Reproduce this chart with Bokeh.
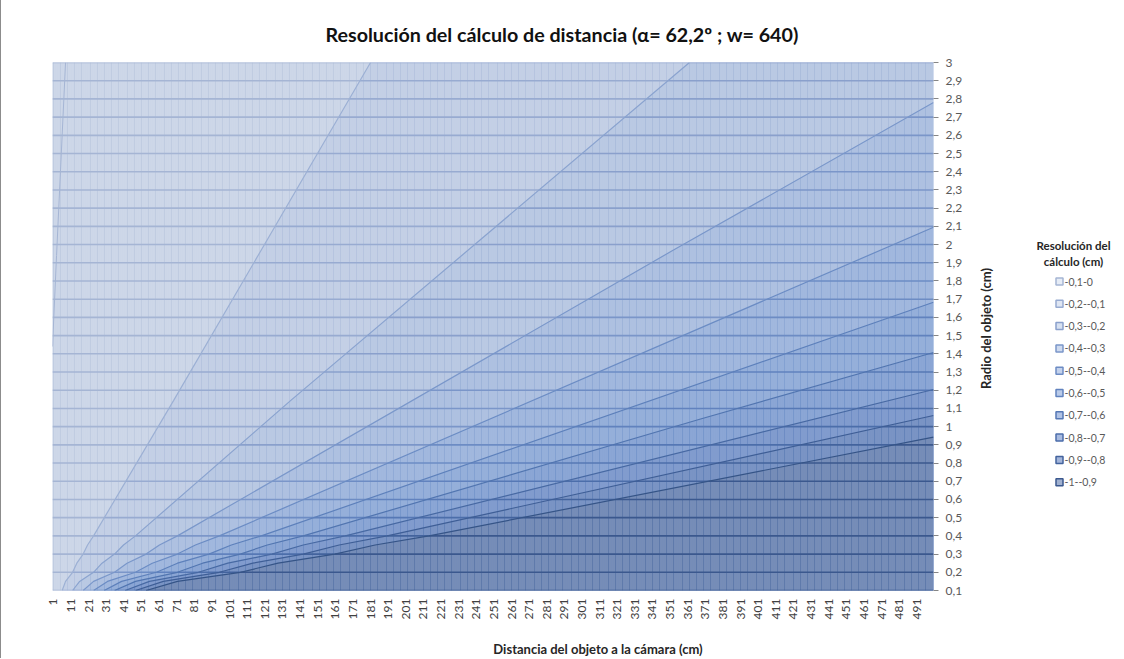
import numpy as np
from bokeh.plotting import figure
from bokeh.models import FixedTicker, Range1d, CustomJSTickFormatter
from bokeh.layouts import row, column
from bokeh.embed import file_html
from bokeh.resources import INLINE
from bokeh.core.properties import value

# ---------------- data ----------------
x_ticks = list(range(1, 500, 10))                 # category labels 1, 11, ... 491
radius_levels = [round(0.1 * i, 1) for i in range(1, 31)]   # series 0,1 ... 3
band_labels = ["-0,1-0", "-0,2--0,1", "-0,3--0,2", "-0,4--0,3", "-0,5--0,4",
               "-0,6--0,5", "-0,7--0,6", "-0,8--0,7", "-0,9--0,8", "-1--0,9"]

# contour lines (distance d, radius r)
c01_d = [6.0, 7.9, 11.9, 14.3, 17.9, 20.4, 23.8, 69.2, 181.0]
c01_r = [0.1, 0.15, 0.2, 0.25, 0.3, 0.35, 0.4, 1.143, 3.0]
c02_d = [11.9, 15.9, 23.8, 28.6, 35.7, 40.8, 47.6, 135.6, 362.0]
c02_r = [0.1, 0.15, 0.2, 0.25, 0.3, 0.35, 0.4, 1.143, 3.0]
c03_d = [17.9, 23.8, 35.7, 42.8, 53.6, 61.2, 71.4, 352.2, 500.5]
c03_r = [0.1, 0.15, 0.2, 0.25, 0.3, 0.35, 0.4, 1.966, 2.78]
c04_d = [23.8, 31.7, 47.6, 57.1, 71.4, 81.6, 95.2, 500.5]
c04_r = [0.1, 0.15, 0.2, 0.25, 0.3, 0.35, 0.4, 2.095]
c05_d = [29.8, 39.7, 59.5, 71.4, 89.3, 102.0, 119.0, 500.5]
c05_r = [0.1, 0.15, 0.2, 0.25, 0.3, 0.35, 0.4, 1.683]
c06_d = [35.7, 47.6, 71.4, 85.7, 107.1, 122.4, 142.8, 368.3, 500.5]
c06_r = [0.1, 0.15, 0.2, 0.25, 0.3, 0.35, 0.4, 1.042, 1.407]
c07_d = [41.7, 55.5, 83.3, 100.0, 125.0, 142.8, 166.6, 500.5]
c07_r = [0.1, 0.15, 0.2, 0.25, 0.3, 0.35, 0.4, 1.204]
c08_d = [47.6, 63.4, 95.2, 114.2, 142.8, 163.2, 190.4, 500.5]
c08_r = [0.1, 0.15, 0.2, 0.25, 0.3, 0.35, 0.4, 1.061]
c09_d = [53.6, 71.4, 107.1, 128.5, 160.7, 183.6, 214.2, 500.5]
c09_r = [0.1, 0.15, 0.2, 0.25, 0.3, 0.35, 0.4, 0.942]
# faint line near the left wall
edge_d = [7.9, 2.8, 0.5]
edge_r = [3.0, 1.94, 1.44]

# ---------------- styles ----------------
band_fill = ["#e6ecf6", "#dfe6f3", "#d7e1f1", "#cedaef", "#c4d2ec",
             "#bacbe9", "#b1c3e5", "#a8bbe0", "#a3b5da", "#a1b1d0"]
vert_line = ["#b3c1da", "#a8b9d8", "#9cb1d5", "#8ea7d2", "#7f9dcf",
             "#7193ca", "#6588c4", "#5a7dbb", "#5173ae", "#4a699f"]
horz_line = ["#a5b5d4", "#98abd1", "#8aa0cc", "#7b96c9", "#6d8cc4",
             "#6182be", "#5678b5", "#4c6eaa", "#43639d", "#3b588e"]
cont_line = ["#9cb0d4", "#8aa3cf", "#7a97ca", "#6b8cc4", "#5d80bb",
             "#5175b0", "#4769a3", "#3e5e96", "#355487"]
FONT = "Lato"

contours = [(c01_d, c01_r), (c02_d, c02_r), (c03_d, c03_r), (c04_d, c04_r),
            (c05_d, c05_r), (c06_d, c06_r), (c07_d, c07_r), (c08_d, c08_r),
            (c09_d, c09_r)]

X0, X1 = 0.5, 500.5
Y0, Y1 = 0.1, 3.0
MB_L, MB_R, MB_T, MB_B = 51, 40, 62, 48
FRAME_W = 881
W, H = MB_L + FRAME_W + MB_R, 638
FRAME_TOP, FRAME_BOT = MB_T, H - MB_B      # page rows of the plot area

p = figure(width=W, height=H, output_backend="svg", toolbar_location=None,
           x_range=Range1d(X0, X1), y_range=Range1d(Y0, Y1),
           y_axis_location="right", min_border_left=MB_L, min_border_right=MB_R,
           min_border_top=MB_T, min_border_bottom=MB_B)
p.background_fill_color = band_fill[0]
p.border_fill_color = "white"
p.outline_line_color = None
p.grid.visible = False

# band fills: region below/right of each contour
xs_p, ys_p, cols = [], [], []
for k, (cd, cr) in enumerate(contours):
    px = list(cd)
    py = list(cr)
    if cr[-1] >= Y1:
        px.append(X1)
        py.append(Y1)
    px.append(X1)
    py.append(Y0)
    xs_p.append(px)
    ys_p.append(py)
    cols.append(band_fill[k + 1])
p.patches(xs_p, ys_p, fill_color=cols, line_color=None)

# wireframe: one vertical line per category edge, snapped to whole pixels
scale = FRAME_W / (X1 - X0)
vx0, vy0, vx1, vy1, vc = [], [], [], [], []
for i in range(501):
    sx = np.floor(MB_L + i * scale) + 0.5
    x = X0 + (sx - MB_L) / scale
    bounds = [Y1] + [float(np.interp(x, cd, cr)) for cd, cr in contours] + [Y0]
    for j in range(10):
        top, bot = min(bounds[j], Y1), max(bounds[j + 1], Y0)
        if top > bot:
            vx0.append(x); vx1.append(x); vy0.append(bot); vy1.append(top)
            vc.append(vert_line[j])
p.segment(vx0, vy0, vx1, vy1, line_color=vc, line_width=1)

hx0, hy0, hx1, hy1, hc = [], [], [], [], []
for r in radius_levels:
    bounds = [X0] + [float(np.interp(r, cr, cd)) for cd, cr in contours] + [X1]
    for j in range(10):
        a, b = max(bounds[j], X0), min(bounds[j + 1], X1)
        if b > a:
            hx0.append(a); hx1.append(b); hy0.append(r); hy1.append(r)
            hc.append(horz_line[j])
p.segment(hx0, hy0, hx1, hy1, line_color=hc, line_width=1.6)

# contour lines
for k, (cd, cr) in enumerate(contours):
    p.line(cd, cr, line_color=cont_line[k], line_width=1.2)
p.line(edge_d, edge_r, line_color="#a5b5d4", line_width=1)

# axes
xa = p.xaxis[0]
xa.ticker = FixedTicker(ticks=x_ticks)
xa.major_label_orientation = np.pi / 2
xa.major_label_text_font = FONT
xa.major_label_text_font_size = "12px"
xa.major_label_text_color = "#404040"
xa.major_tick_out = 0
xa.major_tick_in = 0
xa.minor_tick_out = 0
xa.minor_tick_in = 0
xa.axis_line_color = None
xa.major_label_standoff = 8

ya = p.yaxis[0]
ya.ticker = FixedTicker(ticks=radius_levels)
ya.formatter = CustomJSTickFormatter(
    code="var s = (Math.round(tick*10)/10).toString(); return s.replace('.', ',');")
ya.major_label_text_font = FONT
ya.major_label_text_font_size = "12px"
ya.major_label_text_color = "#595959"
ya.major_tick_out = 5
ya.major_tick_in = 0
ya.minor_tick_out = 0
ya.minor_tick_in = 0
ya.major_tick_line_color = "#868686"
ya.axis_line_color = None
ya.major_label_standoff = 7

p.title.text = "Resolución del cálculo de distancia (α= 62,2º ; w= 640)"
p.title.text_font = FONT
p.title.text_font_size = "19.7px"
p.title.text_font_style = "bold"
p.title.text_color = "#111111"
p.title.align = "left"
p.title.offset = 273
p.title.standoff = 34

# legend panel (also carries the right-hand axis title).
# Its frame is aligned with the main plot area, so its y range is expressed
# as (REF - page row) with REF chosen so the frame rows map one-to-one.
LW = 148
REF = FRAME_TOP + FRAME_BOT
leg = figure(width=LW, height=H, output_backend="svg", toolbar_location=None,
             title_location=None, x_range=Range1d(0, LW),
             y_range=Range1d(REF - FRAME_BOT, REF - FRAME_TOP), min_border=0)
leg.axis.visible = False
leg.grid.visible = False
leg.outline_line_color = None
leg.text(x=[12], y=[REF - 328], text=["Radio del objeto (cm)"], angle=np.pi / 2,
         text_font=value(FONT), text_font_size="13px", text_font_style="bold",
         text_color="#262626", text_align="center", text_baseline="middle")
leg.text(x=[100, 100], y=[REF - 245, REF - 261], text=["Resolución del", "cálculo (cm)"],
         text_font=value(FONT), text_font_size="11.5px", text_font_style="bold",
         text_color="#262626", text_align="center", text_baseline="middle")
item_y = [REF - (281 + 22.3 * i) for i in range(10)]
leg.scatter(x=[86] * 10, y=item_y, marker="square", size=7,
            fill_color=band_fill, line_color=horz_line, line_width=1.5)
leg.text(x=[91] * 10, y=item_y, text=band_labels, text_font=value(FONT),
         text_font_size="10.5px", text_color="#595959", text_baseline="middle")

# strip below for the category-axis title
XW = W + LW
xl = figure(width=XW, height=20, output_backend="svg", toolbar_location=None,
            title_location=None,
            x_range=Range1d(0, XW), y_range=Range1d(0, 20), min_border=0)
xl.axis.visible = False
xl.grid.visible = False
xl.outline_line_color = None
xl.text(x=[596.5], y=[10], text=["Distancia del objeto a la cámara (cm)"],
        text_font=value(FONT), text_font_size="13px", text_font_style="bold",
        text_color="#262626", text_align="center", text_baseline="middle")

layout = column(row(p, leg), xl, styles={"border-left": "1px solid #8c8c8c"})
open("out.html", "w").write(file_html(layout, INLINE))
